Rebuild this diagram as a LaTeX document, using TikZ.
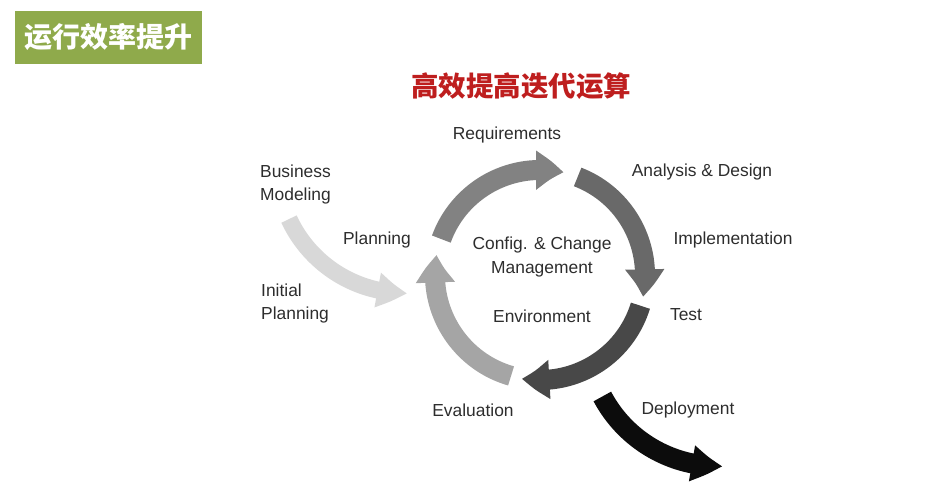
\documentclass[tikz,border=0pt]{standalone}
\usepackage{fontspec}
\setmainfont{Liberation Sans}
\newfontfamily\cjk{Noto Sans CJK SC}
\usetikzlibrary{arrows.meta,bending}
\definecolor{titlegreen}{RGB}{143,170,75}
\definecolor{titlered}{RGB}{190,30,30}
\definecolor{labelgray}{RGB}{45,45,45}
\definecolor{reqgray}{RGB}{130,130,130}
\definecolor{anagray}{RGB}{105,105,105}
\definecolor{testgray}{RGB}{72,72,72}
\definecolor{evalgray}{RGB}{165,165,165}
\definecolor{initgray}{RGB}{216,216,216}
\definecolor{depgray}{RGB}{12,12,12}

\begin{document}
\begin{tikzpicture}[x=1pt, y=1pt,
    lbl/.style={text=labelgray, font=\fontsize{17.4}{23.5}\selectfont, inner sep=0pt},
    lblleft/.style={lbl, anchor=west, align=left},
    band/.style={line width=20pt, -{Triangle[width=37pt, length=28pt, bend]}}]
    \useasboundingbox (0,0) rectangle (938,494);

    % タイトル
    \node[fill=titlegreen, minimum width=187pt, minimum height=53pt, text=white,
          font=\cjk\bfseries\fontsize{28}{30}\selectfont] (title) at (108.5,456.5) {运行效率提升};
    \node[text=titlered, font=\cjk\bfseries\fontsize{27.5}{30}\selectfont] (head) at (521,408) {高效提高迭代运算};

    % 中心点
    \coordinate (cyc) at (540,219);
    \coordinate (ini) at (405,329);
    \coordinate (dep) at (718,159);

    % 循環の矢印
    \draw[band, draw=reqgray]  (cyc) ++(160:105) arc[start angle=160, end angle=77, radius=105];
    \draw[band, draw=anagray]  (cyc) ++(69:105) arc[start angle=69, end angle=-12, radius=105];
    \draw[band, draw=testgray] (cyc) ++(-17:105) arc[start angle=-17, end angle=-100, radius=105];
    \draw[band, draw=evalgray] (cyc) ++(-106:105) arc[start angle=-106, end angle=-191, radius=105];

    % 外側の矢印
    \draw[draw=initgray, line width=17pt, -{Triangle[width=33pt, length=30pt, bend]}]
        (ini) ++(205:128) arc[start angle=205, end angle=271, radius=128];
    \draw[draw=depgray, line width=20pt, -{Triangle[width=34pt, length=31pt, bend]}]
        (dep) ++(208:131) arc[start angle=208, end angle=272, radius=131];

    % ラベル
    \node[lbl] (req) at (507,359) {Requirements};
    \node[lbl] (ana) at (702,322) {Analysis \& Design};
    \node[lbl] (imp) at (733,254) {Implementation};
    \node[lbl] (tst) at (686,179) {Test};
    \node[lbl] (dpl) at (688,84) {Deployment};
    \node[lbl] (evl) at (473,84) {Evaluation};
    \node[lbl] (env) at (542,178) {Environment};
    \node[lbl, align=center] (cfg) at (542,237) {Config. \& Change\\Management};
    \node[lbl] (pln) at (377,254) {Planning};
    \node[lblleft] (bus) at (260,309.5) {Business\\Modeling};
    \node[lblleft] (ipl) at (261,190.5) {Initial\\Planning};

\end{tikzpicture}
\end{document}
